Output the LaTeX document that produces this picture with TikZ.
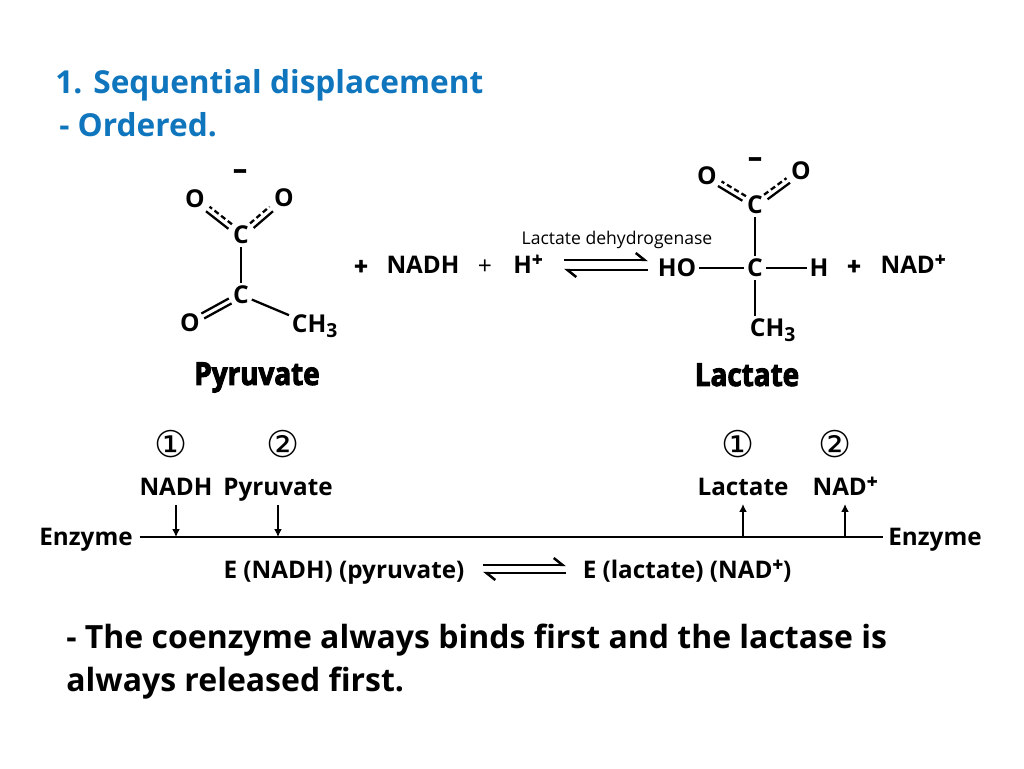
\documentclass[tikz,border=0pt]{standalone}
\usepackage{fontspec}
\setmainfont{Open Sans}
\newfontfamily\numfont{DejaVu Sans}
\newfontfamily\heavyfont[FakeBold=3, FakeStretch=.88]{Open Sans}
\newfontfamily\thickfont[FakeBold=2]{Open Sans}
\usetikzlibrary{arrows.meta}
\newcommand{\up}[1]{\raisebox{.6ex}{\fontsize{10.5}{12}\selectfont\thickfont\bfseries #1}}
\newcommand{\dn}[1]{\raisebox{-.35ex}{\fontsize{11}{12}\selectfont #1}}
\definecolor{headblue}{HTML}{0F75BD}

\tikzset{
    atom/.style={inner sep=1.5pt, font=\fontsize{14}{16}\selectfont\bfseries},
    label/.style={inner sep=0pt, text height=10pt, text depth=0pt, font=\fontsize{13.8}{16}\selectfont\bfseries},
    charge/.style={inner sep=0pt, font=\fontsize{16}{18}\selectfont\thickfont\bfseries},
    circled/.style={inner sep=0pt, font=\fontsize{21}{24}\selectfont\numfont},
    head/.style={inner sep=0pt, anchor=west, text height=13pt, text depth=0pt, text=headblue, font=\fontsize{18}{20}\selectfont\bfseries},
    say/.style={inner sep=0pt, anchor=west, text height=13pt, text depth=0pt, font=\fontsize{18.2}{20}\selectfont\bfseries},
    compound/.style={inner sep=0pt, text height=12.5pt, text depth=0pt, font=\fontsize{18}{20}\selectfont\heavyfont\bfseries},
    bond/.style={line width=1.3pt},
    partial/.style={line width=1.3pt, dash pattern=on 3pt off 1.8pt},
    line/.style={line width=1.3pt},
    hook/.style={line width=1.4pt, -{Straight Barb[left, length=5pt, width=8pt]}},
    tick/.style={line width=.9pt, -{Latex[length=4.5pt, width=4.5pt]}}
}

\begin{document}
\begin{tikzpicture}[x=.02cm, y=-.02cm]
    \fill[white] (0,0) rectangle (1024,768);

    % Headings.
    \node[head] (title) at (55,82) {1. Sequential displacement};
    \node[head] (order) at (59,125) {- Ordered.};

    % Pyruvate.
    \node[atom] (pc) at (241,235) {C};
    \node[atom] (pk) at (241,295) {C};
    \node[atom] (pa) at (195,199) {O};
    \node[atom] (pb) at (284,198) {O};
    \node[atom] (pd) at (190,323) {O};
    \node[atom, anchor=west] (pm) at (289,326) {CH\dn{3}};
    \node[charge] (pq) at (240,174) {\char"2013};
    \node[compound] (pname) at (257,374) {Pyruvate};
    \draw[bond] (pc) -- (pk);
    \draw[bond] (pk) -- (pm);
    \draw[bond, transform canvas={shift={(-.8pt,1.4pt)}}] (pk) -- (pd);
    \draw[bond, transform canvas={shift={(.8pt,-1.4pt)}}] (pk) -- (pd);
    \draw[bond, transform canvas={shift={(-1pt,-1.3pt)}}] (pc) -- (pa);
    \draw[partial, transform canvas={shift={(1pt,1.3pt)}}] (pc) -- (pa);
    \draw[bond, transform canvas={shift={(1pt,-1.3pt)}}] (pc) -- (pb);
    \draw[partial, transform canvas={shift={(-1pt,1.3pt)}}] (pc) -- (pb);

    % Reaktionszeile.
    \node[label, font=\fontsize{14}{16}\selectfont\thickfont\bfseries] (pplus) at (361,266) {+};
    \node[label] (nadh) at (423,265) {NADH};
    \node[label, font=\fontsize{14}{16}\selectfont] (hplus) at (485,266) {+};
    \node[label] (proton) at (528,265) {H\up{+}};
    \node[inner sep=0pt, font=\fontsize{10}{12}\selectfont] (enz) at (617,240) {Lactate dehydrogenase};
    \coordinate (ea) at (564,260);
    \coordinate (eb) at (648,260);
    \coordinate (ec) at (648,270);
    \coordinate (ed) at (564,270);
    \draw[hook] (ea) -- (eb);
    \draw[hook] (ec) -- (ed);

    % Lactate.
    \node[atom] (lc) at (755,205) {C};
    \node[atom] (lk) at (755,268) {C};
    \node[atom] (la) at (707,176) {O};
    \node[atom] (lb) at (801,171) {O};
    \node[atom] (lh) at (677,268) {HO};
    \node[atom] (lr) at (819,268) {H};
    \node[atom, anchor=north west] (lm) at (747,316) {CH\dn{3}};
    \node[charge] (lq) at (755,162) {\char"2013};
    \node[compound] (lname) at (747,375) {Lactate};
    \draw[bond] (lc) -- (lk);
    \draw[bond] (lh) -- (lk);
    \draw[bond] (lk) -- (lr);
    \draw[bond] (lk) -- (lk |- lm.north);
    \draw[bond, transform canvas={shift={(-1pt,-1.3pt)}}] (lc) -- (la);
    \draw[partial, transform canvas={shift={(1pt,1.3pt)}}] (lc) -- (la);
    \draw[bond, transform canvas={shift={(1pt,-1.3pt)}}] (lc) -- (lb);
    \draw[partial, transform canvas={shift={(-1pt,1.3pt)}}] (lc) -- (lb);
    \node[label, font=\fontsize{14}{16}\selectfont\thickfont\bfseries] (lplus) at (854,266) {+};
    \node[label] (nadp) at (913,265) {NAD\up{+}};

    % Enzymlinie.
    \node[label, outer sep=4pt] (enzl) at (86,537) {Enzyme};
    \node[label, outer sep=3pt] (enzr) at (935,537) {Enzyme};
    \draw[line] (enzl) -- (enzr);

    % Nummern und Substrate.
    \foreach \x/\t/\s in {171/\char"2460/a,283/\char"2461/b,738/\char"2460/c,835/\char"2461/d}
    {
        \node[circled] (num\s) at (\x,444) {\t};
    }
    \node[label] (sa) at (176,487) {NADH};
    \node[label] (sb) at (278,487) {Pyruvate};
    \node[label] (sc) at (743,487) {Lactate};
    \node[label] (sd) at (845,487) {NAD\up{+}};
    \foreach \s in {a,b}
    {
        \draw[tick] (s\s.south |- 0,505) -- (s\s.south |- enzl);
    }
    \foreach \s in {c,d}
    {
        \draw[tick] (s\s.south |- enzr) -- (s\s.south |- 0,504);
    }

    % Komplexe.
    \node[label] (ea1) at (344,570) {E (NADH) (pyruvate)};
    \node[label] (ea2) at (687,570) {E (lactate) (NAD\up{+})};
    \coordinate (fa) at (483,565);
    \coordinate (fb) at (566,565);
    \coordinate (fc) at (566,573);
    \coordinate (fd) at (483,573);
    \draw[hook] (fa) -- (fb);
    \draw[hook] (fc) -- (fd);

    % Schlusssatz.
    \node[say] (la1) at (66,637) {- The coenzyme always binds first and the lactase is};
    \node[say] (la2) at (66,680) {always released first.};
\end{tikzpicture}
\end{document}
